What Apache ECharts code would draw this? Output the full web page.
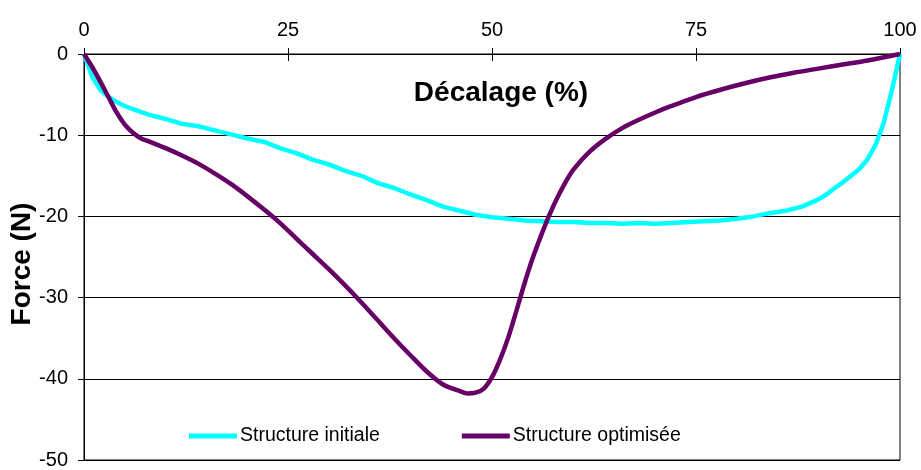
<!DOCTYPE html>
<html>
<head>
<meta charset="utf-8">
<script src="https://cdn.jsdelivr.net/npm/echarts@6/dist/echarts.min.js"></script>
<style>
html,body{margin:0;padding:0;background:#fff;}
#c{width:921px;height:470px;}
</style>
</head>
<body>
<div id="c"></div>
<script>
// Tick labels
var xTicks = [0, 25, 50, 75, 100];
var yTicks = [0, -10, -20, -30, -40, -50];

// Series: Structure initiale
var xInit = [0,1,2,3,4,5,6,8,10,12,14,16,18,20,22,24,26,28,30,32,34,36,38,40,42,44,46,48,50,52,54,56,58,60,62,64,66,68,70,72,74,76,78,80,82,84,86,88,90,91,92,93,94,95,96,97,98,99,100];
var yInit = [0,-2.8,-4.4,-5.3,-5.9,-6.4,-6.8,-7.5,-8.0,-8.6,-8.9,-9.4,-9.9,-10.4,-10.8,-11.6,-12.2,-13.0,-13.6,-14.4,-15.0,-15.9,-16.5,-17.3,-18.0,-18.8,-19.3,-19.8,-20.1,-20.3,-20.5,-20.6,-20.7,-20.7,-20.8,-20.8,-20.9,-20.8,-20.9,-20.8,-20.7,-20.6,-20.5,-20.3,-20.0,-19.6,-19.3,-18.8,-17.9,-17.3,-16.5,-15.8,-15.0,-14.2,-13.0,-11.2,-8.5,-4.5,0];

// Series: Structure optimisée
var xOpt = [0,1,2,3,4,5,6,7,8,10,12,14,16,18,20,22,24,26,28,30,32,34,36,38,40,42,44,46,47,48,49,50,51,52,53,54,55,56,57,58,59,60,62,64,66,68,70,72,75,78,81,84,87,90,93,96,100];
var yOpt = [0,-1.6,-3.4,-5.3,-7.2,-8.7,-9.7,-10.4,-10.8,-11.6,-12.5,-13.5,-14.7,-16.0,-17.5,-19.1,-20.8,-22.7,-24.6,-26.5,-28.5,-30.6,-32.8,-35.0,-37.1,-39.1,-40.7,-41.5,-41.8,-41.7,-41.2,-39.8,-37.6,-34.9,-31.6,-28.2,-25.1,-22.4,-19.9,-17.7,-15.8,-14.2,-12.0,-10.4,-9.1,-8.1,-7.2,-6.4,-5.3,-4.4,-3.6,-2.9,-2.3,-1.8,-1.3,-0.8,0];

var seriesNames = ['Structure initiale', 'Structure optimisée'];
var seriesColors = ['#00FFFF', '#660066'];

function pairs(xs, ys){ return xs.map(function(x,i){ return [x, ys[i]]; }); }

var FONT = '"Liberation Sans", Arial, sans-serif';
var chart = echarts.init(document.getElementById('c'), null, {renderer:'canvas'});
chart.setOption({
  animation: false,
  backgroundColor: '#fff',
  grid: {left: 84, right: 21, top: 54, bottom: 8, show: true, borderColor: '#000', borderWidth: 1, backgroundColor: 'transparent'},
  xAxis: [{
    type: 'value', position: 'top', min: xTicks[0], max: xTicks[xTicks.length-1], interval: 25,
    axisLine: {show: true, onZero: false, lineStyle: {color: '#000', width: 1}},
    axisTick: {show: true, inside: false, length: 6, lineStyle: {color: '#000'}},
    axisLabel: {color: '#000', fontFamily: FONT, fontSize: 20, margin: 14},
    splitLine: {show: false}
  },{
    type: 'value', position: 'top', min: xTicks[0], max: xTicks[xTicks.length-1], interval: 25,
    axisLine: {show: false},
    axisTick: {show: true, inside: true, length: 7, lineStyle: {color: '#000'}},
    axisLabel: {show: false},
    splitLine: {show: false}
  }],
  yAxis: {
    type: 'value', min: yTicks[yTicks.length-1], max: yTicks[0], interval: 10,
    axisLine: {show: true, onZero: false, lineStyle: {color: '#000', width: 1}},
    axisTick: {show: true, inside: false, length: 6, lineStyle: {color: '#000'}},
    axisLabel: {color: '#000', fontFamily: FONT, fontSize: 20, margin: 16},
    splitLine: {show: true, lineStyle: {color: '#000', width: 1}}
  },
  legend: {
    left: 184, top: 421, itemGap: 82, itemWidth: 48, itemHeight: 5, icon: 'rect',
    textStyle: {color: '#000', fontFamily: FONT, fontSize: 19.5, padding: [0,0,0,-2]},
    data: seriesNames
  },
  graphic: [
    {type: 'text', x: 501, y: 93, style: {text: 'Décalage (%)', font: 'bold 28px ' + FONT, fill: '#000', align: 'center', verticalAlign: 'middle'}},
    {type: 'text', rotation: Math.PI/2, x: 22, y: 264, style: {text: 'Force (N)', font: 'bold 28px ' + FONT, fill: '#000', align: 'center', verticalAlign: 'middle'}}
  ],
  series: [
    {name: seriesNames[0], type: 'line', data: pairs(xInit, yInit), showSymbol: false, symbol: 'none',
     lineStyle: {color: seriesColors[0], width: 4.5}, itemStyle: {color: seriesColors[0]}, smooth: false},
    {name: seriesNames[1], type: 'line', data: pairs(xOpt, yOpt), showSymbol: false, symbol: 'none',
     lineStyle: {color: seriesColors[1], width: 4.5}, itemStyle: {color: seriesColors[1]}, smooth: 0.3}
  ]
});
</script>
</body>
</html>
